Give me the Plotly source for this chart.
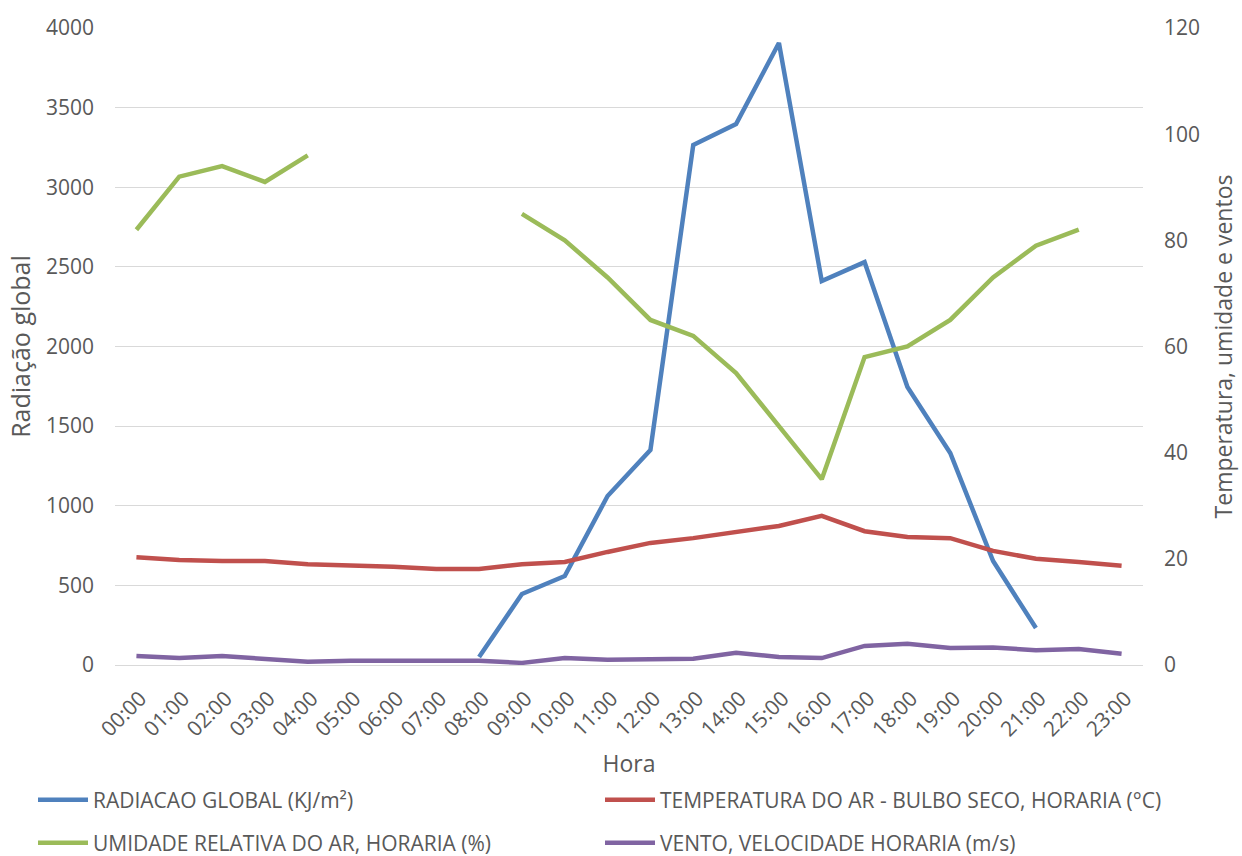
import plotly.graph_objects as go

horas = [f"{h:02d}:00" for h in range(24)]

radiacao = [None, None, None, None, None, None, None, None,
            50, 446, 559, 1061, 1350, 3265, 3397, 3906,
            2411, 2530, 1746, 1331, 653, 232, None, None]

temperatura = [20.3, 19.8, 19.6, 19.6, 19.0, 18.8, 18.5, 18.1,
               18.1, 19.0, 19.4, 21.3, 23.0, 23.9, 25.1, 26.2,
               28.1, 25.2, 24.1, 23.9, 21.5, 20.0, 19.4, 18.7]

umidade = [82, 92, 94, 91, 96, None, None, None,
           None, 85, 80, 73, 65, 62, 55, 45,
           35, 58, 60, 65, 73, 79, 82, None]

vento = [1.7, 1.3, 1.7, 1.2, 0.6, 0.8, 0.8, 1.0,
         0.8, 0.4, 1.3, 1.0, 1.0, 1.2, 2.3, 1.5,
         1.3, 3.6, 4.0, 3.2, 3.3, 2.8, 3.0, 2.1]

FONT = "Open Sans"
TXT = "#595959"
W, H = 1242, 856

series = [
    ("RADIACAO GLOBAL (KJ/m²)", radiacao, "#4f81bd", "y", "legend", 33, 800),
    ("TEMPERATURA DO AR - BULBO SECO, HORARIA (°C)", temperatura, "#c0504d", "y2", "legend2", 600, 800),
    ("UMIDADE RELATIVA DO AR, HORARIA (%)", umidade, "#9bbb59", "y2", "legend3", 33, 843),
    ("VENTO, VELOCIDADE HORARIA (m/s)", vento, "#8064a2", "y2", "legend4", 600, 843),
]

fig = go.Figure()
legends = {}
for name, vals, color, yax, leg, lx, ly in series:
    fig.add_trace(go.Scatter(x=horas, y=vals, name=name, mode="lines",
                             line=dict(color=color, width=4.5), connectgaps=False,
                             yaxis=yax, legend=leg, showlegend=True))
    legends[leg] = dict(orientation="h", xref="container", yref="container",
                        xanchor="left", yanchor="middle", x=lx / W, y=1 - ly / H,
                        itemwidth=50, font=dict(size=21, color=TXT),
                        bgcolor="rgba(0,0,0,0)")

fig.update_layout(
    width=W, height=H, showlegend=True,
    margin=dict(l=115, r=99, t=28, b=191, autoexpand=False),
    paper_bgcolor="white", plot_bgcolor="white",
    font=dict(family=FONT, size=21, color=TXT),
    xaxis=dict(type="category", range=[-0.5, 23.5], tickangle=-45, showgrid=False,
               showline=False, ticks="", automargin=False,
               ticklabelshift=4, ticklabelstandoff=16,
               tickfont=dict(size=21, color=TXT),
               title=dict(text="Hora", font=dict(size=23, color=TXT), standoff=16)),
    yaxis=dict(range=[0, 4000], dtick=500, showgrid=True, gridcolor="#d9d9d9",
               gridwidth=1.3, zeroline=True, zerolinecolor="#d9d9d9", zerolinewidth=1.3,
               ticks="", automargin=False, ticklabelstandoff=20,
               tickfont=dict(size=21, color=TXT),
               title=dict(text="Radiação global", font=dict(size=25, color=TXT), standoff=8)),
    yaxis2=dict(range=[0, 120], dtick=20, overlaying="y", side="right",
                showgrid=False, zeroline=False, ticks="", automargin=False,
                ticklabelstandoff=20, tickfont=dict(size=21, color=TXT),
                title=dict(text="Temperatura, umidade e ventos", font=dict(size=23, color=TXT),
                           standoff=16)),
    **legends,
)

fig.write_html("out.html")
